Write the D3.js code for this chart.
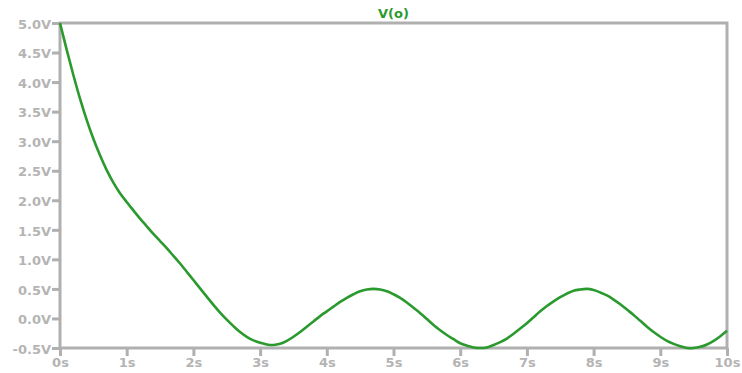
<!DOCTYPE html>
<html>
<head>
<meta charset="utf-8">
<script src="https://cdn.jsdelivr.net/npm/d3@7"></script>
<style>
  body { margin: 0; background: #fff; }
  .axis text { font-family: "DejaVu Sans", sans-serif; font-weight: bold; font-size: 13px; fill: #b4b4b4; }
</style>
</head>
<body>
<div id="chart"></div>
<script>
// V(o) transient, values
const times = [
  0, 0.1, 0.2, 0.3, 0.4, 0.5, 0.6, 0.7, 0.8, 0.9,
  1.0, 1.1, 1.2, 1.3, 1.4, 1.5, 1.6, 1.7, 1.8, 1.9,
  2.0, 2.1, 2.2, 2.3, 2.4, 2.5, 2.6, 2.7, 2.8, 2.9,
  3.0, 3.1, 3.2, 3.3, 3.4, 3.5, 3.6, 3.7, 3.8, 3.9,
  4.0, 4.1, 4.2, 4.3, 4.4, 4.5, 4.6, 4.7, 4.8, 4.9,
  5.0, 5.1, 5.2, 5.3, 5.4, 5.5, 5.6, 5.7, 5.8, 5.9,
  6.0, 6.1, 6.2, 6.3, 6.4, 6.5, 6.6, 6.7, 6.8, 6.9,
  7.0, 7.1, 7.2, 7.3, 7.4, 7.5, 7.6, 7.7, 7.8, 7.9,
  8.0, 8.1, 8.2, 8.3, 8.4, 8.5, 8.6, 8.7, 8.8, 8.9,
  9.0, 9.1, 9.2, 9.3, 9.4, 9.5, 9.6, 9.7, 9.8, 9.9,
  10.0
];
const voltages = [
  5.00, 4.55, 4.12, 3.72, 3.36, 3.04, 2.76, 2.51, 2.30, 2.12,
  1.97, 1.83, 1.69, 1.56, 1.43, 1.31, 1.19, 1.06, 0.93, 0.79,
  0.65, 0.51, 0.37, 0.23, 0.10, -0.02, -0.13, -0.23, -0.31, -0.37,
  -0.41, -0.44, -0.45, -0.43, -0.38, -0.31, -0.23, -0.14, -0.05, 0.04,
  0.12, 0.20, 0.28, 0.35, 0.41, 0.46, 0.49, 0.50, 0.49, 0.46,
  0.41, 0.35, 0.27, 0.18, 0.09, -0.01, -0.11, -0.20, -0.28, -0.35,
  -0.42, -0.46, -0.49, -0.50, -0.49, -0.45, -0.40, -0.34, -0.26, -0.17,
  -0.08, 0.02, 0.12, 0.21, 0.29, 0.36, 0.42, 0.47, 0.49, 0.50,
  0.48, 0.44, 0.39, 0.32, 0.24, 0.15, 0.06, -0.04, -0.14, -0.23,
  -0.31, -0.38, -0.43, -0.47, -0.50, -0.50, -0.48, -0.44, -0.38, -0.30,
  -0.21
];
const xTicks = [0, 1, 2, 3, 4, 5, 6, 7, 8, 9, 10];
const yTicks = [-0.5, 0, 0.5, 1, 1.5, 2, 2.5, 3, 3.5, 4, 4.5, 5];
const traceName = 'V(o)';

const width = 742;
const height = 373;
const margin = { left: 60, top: 23, right: 15, bottom: 25 };
const frameColor = '#b0b0b0';
const traceColor = '#2a9a2e';

const svg = d3.select('#chart')
  .append('svg')
  .attr('width', width)
  .attr('height', height);

const x = d3.scaleLinear()
  .domain([0, 10])
  .range([margin.left, width - margin.right]);
const y = d3.scaleLinear()
  .domain([-0.5, 5])
  .range([height - margin.bottom, margin.top]);

const xAxis = d3.axisBottom(x)
  .tickValues(xTicks)
  .tickSizeInner(8)
  .tickSizeOuter(0)
  .tickPadding(2)
  .tickFormat(d => `${d}s`);
const yAxis = d3.axisLeft(y)
  .tickValues(yTicks)
  .tickSizeInner(8)
  .tickSizeOuter(0)
  .tickPadding(1)
  .tickFormat(d => `${d.toFixed(1)}V`);

const gx = svg.append('g')
  .attr('class', 'axis')
  .attr('transform', `translate(0,${height - margin.bottom})`)
  .call(xAxis);
const gy = svg.append('g')
  .attr('class', 'axis')
  .attr('transform', `translate(${margin.left},0)`)
  .call(yAxis);

[gx, gy].forEach(g => {
  g.select('.domain').remove();
  g.selectAll('.tick line')
    .attr('stroke', frameColor)
    .attr('stroke-width', 3);
});
gy.selectAll('.tick text').attr('dy', '0.4em');

// frame
svg.append('rect')
  .attr('x', margin.left)
  .attr('y', margin.top)
  .attr('width', width - margin.left - margin.right)
  .attr('height', height - margin.top - margin.bottom)
  .attr('fill', 'none')
  .attr('stroke', frameColor)
  .attr('stroke-width', 3);

// trace
const points = times.map((t, i) => [t, voltages[i]]);
const line = d3.line()
  .x(d => x(d[0]))
  .y(d => y(d[1]))
  .curve(d3.curveCatmullRom.alpha(0.5));

svg.append('path')
  .datum(points)
  .attr('fill', 'none')
  .attr('stroke', traceColor)
  .attr('stroke-width', 2.6)
  .attr('stroke-linejoin', 'round')
  .attr('d', line);

// title
svg.append('text')
  .attr('x', (margin.left + width - margin.right) / 2)
  .attr('y', 18)
  .attr('text-anchor', 'middle')
  .attr('font-family', '"DejaVu Sans", sans-serif')
  .attr('font-weight', 'bold')
  .attr('font-size', 13)
  .attr('fill', traceColor)
  .text(traceName);
</script>
</body>
</html>
